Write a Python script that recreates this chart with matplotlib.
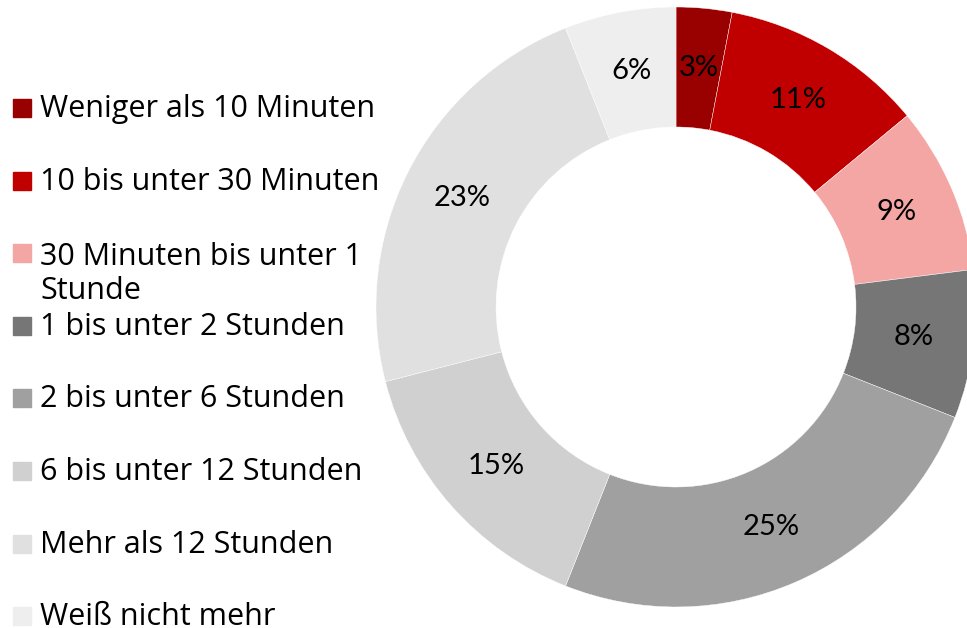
import matplotlib.pyplot as plt
from matplotlib.patches import Rectangle

categories = ["Weniger als 10 Minuten", "10 bis unter 30 Minuten",
              "30 Minuten bis unter 1\nStunde", "1 bis unter 2 Stunden",
              "2 bis unter 6 Stunden", "6 bis unter 12 Stunden",
              "Mehr als 12 Stunden", "Weiß nicht mehr"]
values = [3, 11, 9, 8, 25, 15, 23, 6]
colors = ["#990000", "#C00000", "#F4A6A4", "#767676",
          "#A0A0A0", "#D0D0D0", "#E0E0E0", "#EEEEEE"]

W, H = 967, 628
fig = plt.figure(figsize=(W / 100, H / 100), dpi=100)

# donut: centre (676, 307) px, outer radius 300 px
cx, cy, r = 676, 307, 300
ax = fig.add_axes([(cx - r) / W, (H - cy - r) / H, 2 * r / W, 2 * r / H])
wedges, texts = ax.pie(values, colors=colors, startangle=90, counterclock=False,
                       radius=1, labels=[f"{v}%" for v in values],
                       labeldistance=0.8,
                       wedgeprops=dict(width=0.4, edgecolor="white", linewidth=0.3),
                       textprops=dict(fontsize=21, family="Lato", color="black",
                                      ha="center", va="center"))
ax.set_xlim(-1, 1)
ax.set_ylim(-1, 1)
ax.set_aspect("equal")
ax.axis("off")

# legend drawn by hand, baselines roughly every 72.5 px
for i, (lab, col) in enumerate(zip(categories, colors)):
    base = 117 + 72.6 * i
    fig.patches.append(Rectangle((13 / W, (H - base) / H), 18 / W, 18 / H,
                                 transform=fig.transFigure, color=col))
    n_extra = lab.count("\n")
    fig.text(40 / W, (H - base - 37 * n_extra) / H, lab, fontsize=22,
             family="Open Sans", va="baseline", ha="left", linespacing=1.2)

fig.savefig("out.png", dpi=100)
